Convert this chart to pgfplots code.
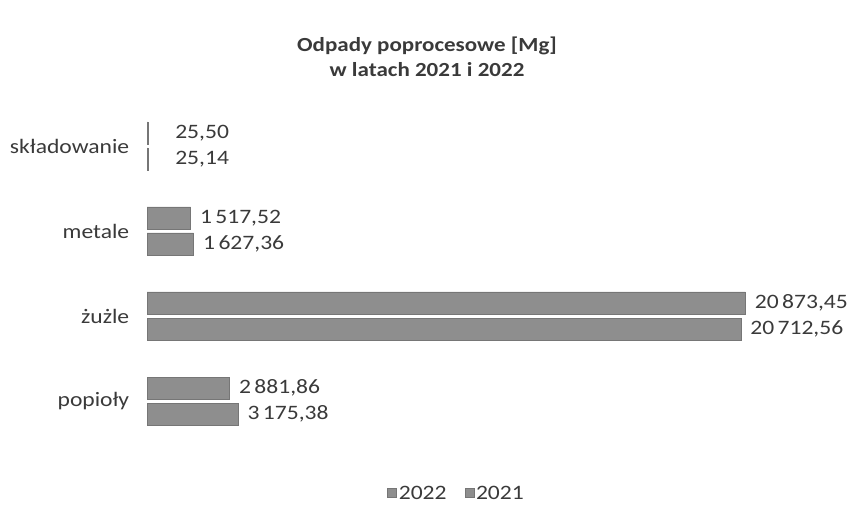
\documentclass[border=0pt]{standalone}
\usepackage{pgfplots}
\pgfplotsset{compat=1.18}
\usepackage{fontspec}
\setmainfont{Carlito}[FakeStretch=1.15]
\definecolor{txt}{HTML}{3A3A3A}
\definecolor{barfill}{HTML}{8E8E8E}
\definecolor{baredge}{HTML}{767676}
\begin{document}
\begin{tikzpicture}[x=1pt,y=1pt]
\useasboundingbox (0,0) rectangle (850,511);
\node[font=\bfseries\fontsize{20}{25}\selectfont, align=center, text=txt] at (427,454) {Odpady poprocesowe [Mg]\\w latach 2021 i 2022};
\begin{axis}[
  at={(147pt,67.5pt)}, anchor=south west,
  width=688pt, height=340pt, scale only axis,
  xmin=0, xmax=24000, ymin=-0.5, ymax=3.5,
  axis x line=none,
  axis y line*=left,
  y axis line style={draw=none},
  ytick={0,1,2,3},
  yticklabels={popioły,żużle,metale,składowanie},
  ytick style={draw=none},
  yticklabel style={font=\fontsize{20.5}{24}\selectfont, text=txt, xshift=-10pt},
  xbar, bar width=22pt,
  clip=false,
  point meta=explicit symbolic,
  nodes near coords,
  nodes near coords style={anchor=west, font=\fontsize{20.5}{24}\selectfont, text=txt, xshift=6pt},
  legend style={draw=none, at={(0.45,-0.147)}, anchor=center, legend columns=2,
    font=\fontsize{20.5}{24}\selectfont, text=txt,
    /tikz/every even column/.append style={column sep=16pt}},
  legend image code/.code={\path[#1] (0pt,-4pt) rectangle (9pt,5pt);},
]
\addplot[bar shift=13pt, draw=baredge, fill=barfill]
  table[x=x, y=y, meta=l] {
x y l
2881.86 0 {2\,881,86}
20873.45 1 {20\,873,45}
1517.52 2 {1\,517,52}
25.50 3 {\hspace*{18pt}25,50}
};
\addlegendentry{2022}
\addplot[bar shift=-13pt, draw=baredge, fill=barfill]
  table[x=x, y=y, meta=l] {
x y l
3175.38 0 {3\,175,38}
20712.56 1 {20\,712,56}
1627.36 2 {1\,627,36}
25.14 3 {\hspace*{18pt}25,14}
};
\addlegendentry{2021}
\end{axis}
\end{tikzpicture}
\end{document}
